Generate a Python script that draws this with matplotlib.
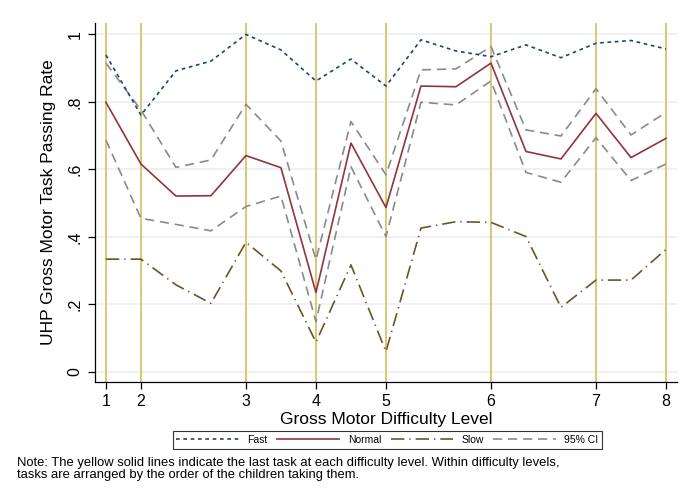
import matplotlib.pyplot as plt
import numpy as np

plt.rcParams["font.family"] = ["Liberation Sans", "DejaVu Sans"]

# task order within the 17 gross motor tasks
TASKS = list(range(1, 18))
LEVEL_TASKS = [1, 2, 5, 7, 9, 12, 15, 17]  # last task at each level
LEVEL_LABELS = ["1", "2", "3", "4", "5", "6", "7", "8"]

FAST = [0.939, 0.761, 0.892, 0.921, 1.000, 0.954, 0.862, 0.927, 0.847,
        0.984, 0.951, 0.934, 0.969, 0.931, 0.974, 0.982, 0.957]
NORMAL = [0.799, 0.616, 0.521, 0.522, 0.641, 0.605, 0.235, 0.678, 0.487,
          0.847, 0.845, 0.915, 0.653, 0.631, 0.766, 0.635, 0.692]
SLOW = [0.334, 0.334, 0.258, 0.203, 0.384, 0.299, 0.088, 0.317, 0.060,
        0.426, 0.445, 0.443, 0.401, 0.191, 0.272, 0.272, 0.363]
CI_UPPER = [0.915, 0.776, 0.606, 0.628, 0.793, 0.684, 0.332, 0.742, 0.584,
            0.895, 0.898, 0.964, 0.717, 0.699, 0.839, 0.702, 0.769]
CI_LOWER = [0.687, 0.455, 0.437, 0.418, 0.490, 0.521, 0.149, 0.608, 0.401,
            0.799, 0.791, 0.862, 0.591, 0.562, 0.694, 0.567, 0.616]

fig = plt.figure(figsize=(6.83, 4.99), dpi=100)
ax = fig.add_axes([0.139, 0.2345, 0.852, 0.7195])

for y in [0, 0.2, 0.4, 0.6, 0.8, 1.0]:
    ax.axhline(y, color="#e8f0f1", linewidth=1.2, zorder=0)
for t in LEVEL_TASKS:
    ax.axvline(t, color="#d8c46a", linewidth=1.3, zorder=1)

ax.plot(TASKS, FAST, color="#1a476f", linewidth=1.2, dashes=(2.2, 2.2), label="Fast", zorder=3)
ax.plot(TASKS, NORMAL, color="#90353b", linewidth=1.2, label="Normal", zorder=3)
ax.plot(TASKS, SLOW, color="#6b5526", linewidth=1.2, dashes=(8, 3, 0.8, 3), label="Slow", zorder=3)
ax.plot(TASKS, CI_UPPER, color="#8a8a8a", linewidth=1.2, dashes=(5.5, 3.5), label="95% CI", zorder=2)
ax.plot(TASKS, CI_LOWER, color="#8a8a8a", linewidth=1.2, dashes=(5.5, 3.5), zorder=2)

ax.set_xlim(0.686, 17.31)
ax.set_ylim(-0.03, 1.034)
ax.set_xticks(LEVEL_TASKS)
ax.set_xticklabels(LEVEL_LABELS)
ax.set_yticks([0, 0.2, 0.4, 0.6, 0.8, 1.0])
ax.set_yticklabels(["0", ".2", ".4", ".6", ".8", "1"], rotation=90, va="center")
ax.tick_params(axis="both", direction="out", length=5, width=0.9, labelsize=11.5, color="black")
ax.tick_params(axis="y", pad=4)

for side in ["top", "right"]:
    ax.spines[side].set_visible(False)
for side in ["left", "bottom"]:
    ax.spines[side].set_linewidth(0.9)

ax.set_xlabel("Gross Motor Difficulty Level", fontsize=12.5, labelpad=2)
ax.set_ylabel("UHP Gross Motor Task Passing Rate", fontsize=12.5, labelpad=8)

leg = fig.legend(loc="center", bbox_to_anchor=(0.567, 0.118), ncol=4, fontsize=7.5,
                 frameon=True, fancybox=False, edgecolor="black", handlelength=6.0,
                 columnspacing=0.9, handletextpad=0.8, borderpad=0.35)
leg.get_frame().set_linewidth(0.8)

fig.text(0.025, 0.06, "Note: The yellow solid lines indicate the last task at each difficulty level. "
         "Within difficulty levels,\ntasks are arranged by the order of the children taking them.",
         fontsize=9.4, va="center", ha="left", linespacing=0.95)

fig.savefig("out.png", dpi=100, facecolor="white")
